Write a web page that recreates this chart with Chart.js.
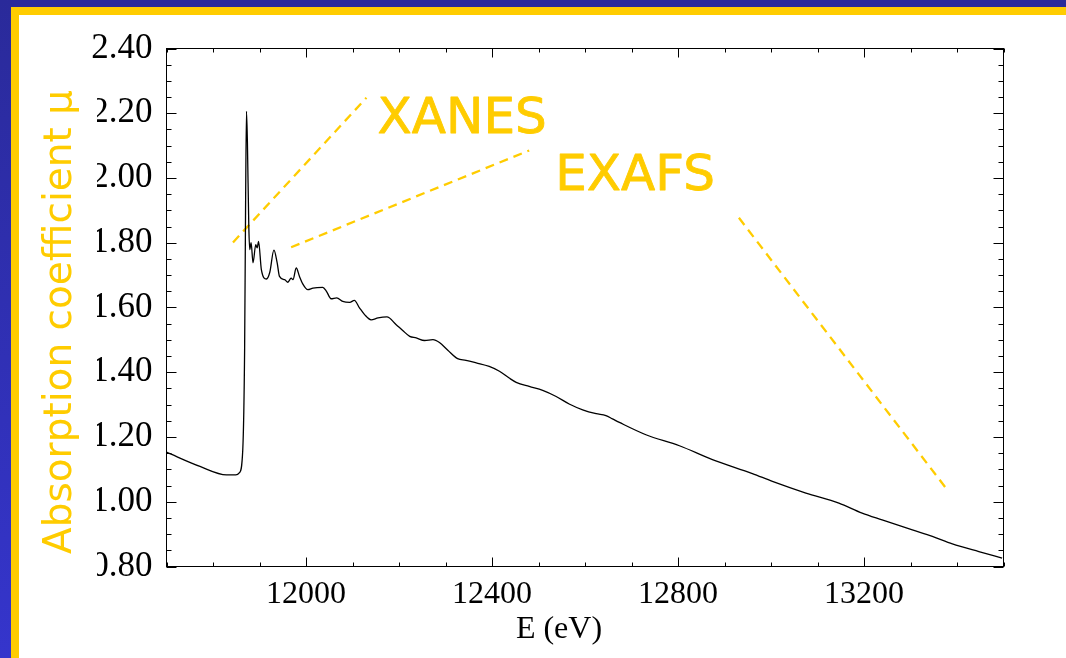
<!DOCTYPE html>
<html>
<head>
<meta charset="utf-8">
<title>Absorption spectrum</title>
<script src="https://cdn.jsdelivr.net/npm/chart.js@4.4.1/dist/chart.umd.min.js"></script>
<style>
  html, body { margin: 0; padding: 0; background: #fff; }
  #page { position: relative; width: 1066px; height: 658px; overflow: hidden; background: #fff; }
  .bar { position: absolute; }
  #blueTop { left: 0; top: 0; width: 1066px; height: 7px; background: #2a2a9a; }
  #blueLeft { left: 0; top: 0; width: 11px; height: 658px; background: linear-gradient(#2a2a9a, #3535cc); }
  #yellowTop { left: 11px; top: 7px; width: 1055px; height: 8px; background: #ffcc00; }
  #yellowLeft { left: 11px; top: 7px; width: 8px; height: 651px; background: #ffcc00; }
  canvas { position: absolute; left: 0; top: 0; }
</style>
</head>
<body>
<div id="page">
  <div class="bar" id="blueTop"></div>
  <div class="bar" id="blueLeft"></div>
  <div class="bar" id="yellowTop"></div>
  <div class="bar" id="yellowLeft"></div>
  <canvas id="myChart" width="1066" height="658"></canvas>
</div>
<script>
// spectrum
const energyEV = [
  11700, 11772, 11829, 11849, 11857, 11864, 11868, 11870, 11872, 11874,
  11877, 11879, 11882, 11886, 11892, 11895, 11898, 11904, 11915, 11922,
  11931, 11938, 11943, 11954, 11961, 11968, 11972, 11979, 11986, 11993,
  12004, 12015, 12036, 12044, 12054, 12066, 12079, 12094, 12104, 12115,
  12126, 12140, 12155, 12174, 12194, 12208, 12223, 12237, 12255, 12273,
  12287, 12305, 12326, 12344, 12366, 12394, 12416, 12437, 12452, 12480,
  12509, 12538, 12566, 12595, 12624, 12645, 12659, 12674, 12731, 12803,
  12874, 12960, 13003, 13075, 13146, 13196, 13239, 13304, 13347, 13390,
  13447, 13497
];
const muValues = [
  1.153, 1.109, 1.083, 1.083, 1.090, 1.160, 1.470, 1.900, 2.206, 2.110,
  1.851, 1.779, 1.800, 1.738, 1.794, 1.784, 1.804, 1.717, 1.688, 1.708,
  1.777, 1.738, 1.696, 1.686, 1.678, 1.691, 1.686, 1.722, 1.696, 1.673,
  1.655, 1.660, 1.662, 1.650, 1.627, 1.630, 1.619, 1.616, 1.622, 1.599,
  1.578, 1.562, 1.568, 1.571, 1.547, 1.529, 1.511, 1.506, 1.498, 1.501,
  1.492, 1.468, 1.442, 1.437, 1.429, 1.418, 1.403, 1.382, 1.369, 1.356,
  1.344, 1.325, 1.302, 1.284, 1.272, 1.266, 1.256, 1.245, 1.207, 1.173,
  1.130, 1.087, 1.063, 1.027, 0.996, 0.965, 0.944, 0.913, 0.893, 0.870,
  0.846, 0.826
];
const xTickLabels = [12000, 12400, 12800, 13200];
const yTickLabels = ['0.80', '1.00', '1.20', '1.40', '1.60', '1.80', '2.00', '2.20', '2.40'];
const xAxisTitle = 'E (eV)';
const yAxisTitle = 'Absorption coefficient \u03bc';
const regionNames = ['XANES', 'EXAFS'];

// where the yellow notes sit, in axis units
const regionNameAt = [[12154, 2.14], [12536, 1.964]];
const guideLines = [
  [11843, 1.801, 12130, 2.248],
  [11968, 1.786, 12480, 2.085],
  [12931, 1.877, 13379, 1.037]
];

const serif = "'Liberation Serif', 'Times New Roman', serif";
const comic = "'Comic Sans MS', 'DejaVu Sans', sans-serif";
const yellow = '#ffcc00';

const decorations = {
  id: 'decorations',
  beforeDatasetsDraw(chart) {
    const { ctx, scales: { x, y } } = chart;
    ctx.save();
    ctx.strokeStyle = yellow;
    ctx.lineWidth = 2.3;
    ctx.setLineDash([9, 6]);
    guideLines.forEach(([x1, y1, x2, y2]) => {
      ctx.beginPath();
      ctx.moveTo(x.getPixelForValue(x1), y.getPixelForValue(y1));
      ctx.lineTo(x.getPixelForValue(x2), y.getPixelForValue(y2));
      ctx.stroke();
    });
    ctx.restore();
  },
  afterDatasetsDraw(chart) {
    // box round the plot with ticks pointing inwards on all four sides
    const { ctx, chartArea: a, scales: { x, y } } = chart;
    ctx.save();
    ctx.strokeStyle = '#000';
    ctx.lineWidth = 1;
    ctx.strokeRect(a.left, a.top, a.right - a.left, a.bottom - a.top);
    ctx.beginPath();
    y.ticks.forEach(t => {
      const py = Math.round(y.getPixelForValue(t.value)) + 0.5;
      const len = t.label ? 10 : 5;
      ctx.moveTo(a.left, py); ctx.lineTo(a.left + len, py);
      ctx.moveTo(a.right, py); ctx.lineTo(a.right - len, py);
    });
    x.ticks.forEach(t => {
      const px = Math.round(x.getPixelForValue(t.value)) + 0.5;
      const len = t.label ? 9 : 4;
      ctx.moveTo(px, a.bottom); ctx.lineTo(px, a.bottom - len);
      ctx.moveTo(px, a.top); ctx.lineTo(px, a.top + len);
    });
    ctx.stroke();
    ctx.restore();
  },
  afterDraw(chart) {
    const { ctx, scales: { x, y } } = chart;
    ctx.save();

    // x title
    ctx.fillStyle = '#000';
    ctx.font = '32px ' + serif;
    ctx.textAlign = 'center';
    ctx.textBaseline = 'middle';
    ctx.fillText(xAxisTitle, 559, 630);

    // y title sits in a white box that hides part of the tick labels
    ctx.fillStyle = '#fff';
    ctx.fillRect(19, 72, 78, 520);
    ctx.translate(71, 322);
    ctx.rotate(-Math.PI / 2);
    ctx.fillStyle = yellow;
    ctx.strokeStyle = yellow;
    ctx.lineJoin = 'round';
    ctx.font = '39px ' + comic;
    ctx.textAlign = 'center';
    ctx.textBaseline = 'alphabetic';
    ctx.fillText(yAxisTitle, 0, 0);
    ctx.setTransform(1, 0, 0, 1, 0, 0);

    // region names
    ctx.font = '50px ' + comic;
    ctx.textAlign = 'left';
    ctx.lineWidth = 0.8;
    regionNames.forEach((name, i) => {
      const [ex, mv] = regionNameAt[i];
      const px = x.getPixelForValue(ex), py = y.getPixelForValue(mv);
      ctx.fillText(name, px, py);
      ctx.strokeText(name, px, py);
    });
    ctx.restore();
  }
};

const points = energyEV.map((e, i) => ({ x: e, y: muValues[i] }));

new Chart(document.getElementById('myChart'), {
  type: 'line',
  data: {
    datasets: [{
      data: points,
      borderColor: '#000',
      borderWidth: 1.3,
      pointRadius: 0,
      fill: false,
      cubicInterpolationMode: 'monotone'
    }]
  },
  options: {
    responsive: false,
    animation: false,
    events: [],
    layout: { padding: { left: 0, top: 48.5, right: 62.5, bottom: 0 } },
    plugins: { legend: { display: false }, tooltip: { enabled: false } },
    scales: {
      x: {
        type: 'linear',
        min: 11700,
        max: 13500,
        grid: { display: false, drawTicks: false },
        border: { display: false },
        ticks: {
          stepSize: 100,
          autoSkip: false,
          maxRotation: 0,
          padding: 9,
          color: '#000',
          font: { family: serif, size: 32 },
          callback: v => xTickLabels.includes(Math.round(v)) ? String(Math.round(v)) : ''
        },
        afterFit: s => { s.height = 91.5; }
      },
      y: {
        min: 0.8,
        max: 2.4,
        grid: { display: false, drawTicks: false },
        border: { display: false },
        ticks: {
          stepSize: 0.05,
          autoSkip: false,
          padding: 14,
          color: '#000',
          font: { family: serif, size: 35 },
          callback: v => {
            const s = Number(v).toFixed(2);
            return yTickLabels.includes(s) ? s : '';
          }
        },
        afterFit: s => { s.width = 166.5; }
      }
    }
  },
  plugins: [decorations]
});
</script>
</body>
</html>
